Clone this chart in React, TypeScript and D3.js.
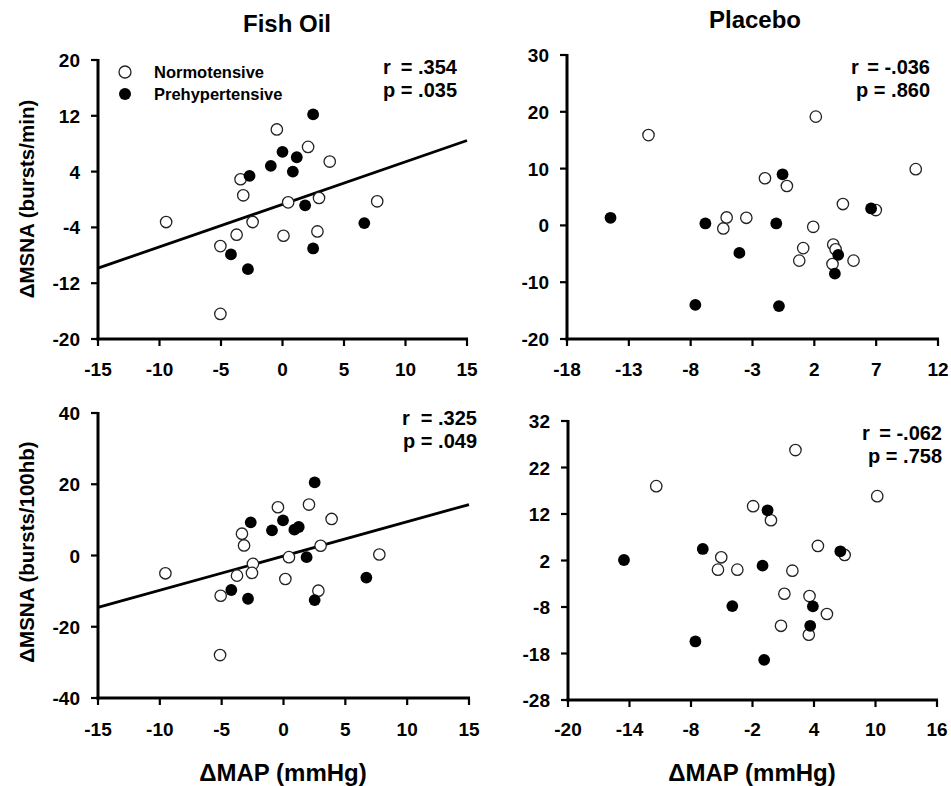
import React from 'react';
import * as d3 from 'd3';

type Pt = [number, number];

// ΔMAP (x) vs ΔMSNA (y) per participant
const fishMinNormo: Pt[] = [
  [-9.46, -3.23], [-5.05, -6.68], [-3.73, -5.05], [-3.41, 2.9], [-3.19, 0.6],
  [-2.43, -3.23], [-5.05, -16.4], [-0.46, 10.04], [0.46, -0.41], [0.08, -5.2],
  [2.08, 7.54], [2.97, 0.22], [2.84, -4.58], [3.84, 5.44], [7.7, -0.26],
];
const fishMinPrehyp: Pt[] = [
  [-2.68, 3.38], [-4.19, -7.87], [-2.81, -9.99], [-0.95, 4.82], [0.0, 6.83],
  [1.16, 6.06], [0.84, 4.0], [2.49, 12.2], [1.84, -0.84], [2.49, -7.02], [6.65, -3.38],
];
const placeboMinNormo: Pt[] = [
  [-11.41, 15.9], [-5.36, -0.54], [-5.09, 1.4], [-3.5, 1.34], [-1.99, 8.3],
  [-0.22, 6.94], [2.12, 19.15], [1.91, -0.25], [1.1, -4.0], [0.78, -6.2],
  [3.53, -3.37], [3.72, -4.2], [3.47, -6.8], [4.31, 3.76], [5.17, -6.2],
  [6.97, 2.7], [10.2, 9.9],
];
const placeboMinPrehyp: Pt[] = [
  [-14.48, 1.34], [-6.81, 0.34], [-4.06, -4.85], [-7.62, -14.0], [-0.57, 9.0],
  [-1.08, 0.34], [-0.86, -14.2], [3.93, -5.2], [3.66, -8.5], [6.59, 2.98],
];
const fishHbNormo: Pt[] = [
  [-9.55, -4.99], [-5.08, -11.3], [-3.76, -5.65], [-3.36, 6.12], [-3.19, 2.82],
  [-2.47, -2.35], [-2.55, -4.89], [-5.13, -27.95], [-0.45, 13.55], [0.44, -0.47],
  [0.15, -6.59], [2.06, 14.3], [3.0, 2.73], [2.82, -9.88], [3.89, 10.26], [7.75, 0.28],
];
const fishHbPrehyp: Pt[] = [
  [-2.65, 9.32], [-4.22, -9.69], [-2.87, -12.14], [-0.93, 7.06], [-0.04, 9.88],
  [0.88, 7.25], [1.23, 8.0], [2.52, 20.52], [1.87, -0.47], [2.52, -12.52], [6.7, -6.21],
];
const placeboHbNormo: Pt[] = [
  [-11.39, 17.99], [-5.05, 2.69], [-5.37, 0.03], [-3.48, 0.03], [-1.94, 13.68],
  [-0.2, 10.66], [2.19, 25.75], [1.89, -0.19], [1.11, -5.15], [0.78, -12.04],
  [3.56, -5.65], [3.49, -13.97], [4.38, 5.13], [5.26, -9.51], [6.99, 3.19], [10.17, 15.84],
];
const placeboHbPrehyp: Pt[] = [
  [-14.54, 2.11], [-6.85, 4.48], [-3.97, -7.8], [-7.57, -15.41], [-0.53, 12.8],
  [-1.02, 0.89], [-0.86, -19.36], [3.89, -7.86], [3.63, -12.04], [6.57, 3.98],
];

// Axis ticks
const fishXTicks = [-15, -10, -5, 0, 5, 10, 15];
const fishMinYTicks = [-20, -12, -4, 4, 12, 20];
const fishHbYTicks = [-40, -20, 0, 20, 40];
const placeboMinXTicks = [-18, -13, -8, -3, 2, 7, 12];
const placeboMinYTicks = [-20, -10, 0, 10, 20, 30];
const placeboHbXTicks = [-20, -14, -8, -2, 4, 10, 16];
const placeboHbYTicks = [-28, -18, -8, 2, 12, 22, 32];

// Regression lines (Fish Oil only)
const fishMinFit = { intercept: -0.69, slope: 0.61 };
const fishHbFit = { intercept: -0.14, slope: 0.963 };

// Correlation statistics
const statsR = ['.354', '-.036', '.325', '-.062'];
const statsP = ['.035', '.860', '.049', '.758'];

const groupLabels = ['Normotensive', 'Prehypertensive'];
const columnTitles = ['Fish Oil', 'Placebo'];
const yLabels = ['\u0394MSNA (bursts/min)', '\u0394MSNA (bursts/100hb)'];
const xLabel = '\u0394MAP (mmHg)';

const FONT = "'Liberation Sans', Arial, Helvetica, sans-serif";
const TICK_FS = 19;
const STAT_FS = 20;

interface PanelProps {
  x0: number; x1: number; yTop: number; yBot: number;
  xTicks: number[]; yTicks: number[];
  normo: Pt[]; prehyp: Pt[];
  fit?: { intercept: number; slope: number };
  r: string; p: string;
  statLeft: number; statRight: number; statBase: number;
  xLabelBase: number;
}

function Panel(props: PanelProps) {
  const { x0, x1, yTop, yBot, xTicks, yTicks, normo, prehyp, fit } = props;
  const xs = d3.scaleLinear().domain([xTicks[0], xTicks[xTicks.length - 1]]).range([x0, x1]);
  const ys = d3.scaleLinear().domain([yTicks[0], yTicks[yTicks.length - 1]]).range([yBot, yTop]);
  const tickLen = 7;
  const fitLine = fit
    ? d3.line<number>().x((d) => xs(d)).y((d) => ys(fit.intercept + fit.slope * d))(xs.domain())
    : null;
  return (
    <g>
      {/* y axis */}
      <line x1={x0} x2={x0} y1={yTop - 1} y2={yBot + 1.5} stroke="#000" strokeWidth={3} />
      {yTicks.map((t) => (
        <g key={'y' + t}>
          <line x1={x0 - tickLen} x2={x0} y1={ys(t)} y2={ys(t)} stroke="#000" strokeWidth={2.2} />
          <text x={x0 - 18} y={ys(t) + 7} textAnchor="end" fontSize={TICK_FS} fontWeight="bold" fontFamily={FONT}>
            {t}
          </text>
        </g>
      ))}
      {/* x axis */}
      <line x1={x0 - 1.5} x2={x1 + 1} y1={yBot} y2={yBot} stroke="#000" strokeWidth={3} />
      {xTicks.map((t) => (
        <g key={'x' + t}>
          <line x1={xs(t)} x2={xs(t)} y1={yBot} y2={yBot + tickLen} stroke="#000" strokeWidth={2.2} />
          <text x={xs(t)} y={props.xLabelBase} textAnchor="middle" fontSize={TICK_FS} fontWeight="bold" fontFamily={FONT}>
            {t}
          </text>
        </g>
      ))}
      {fitLine && <path d={fitLine} stroke="#000" strokeWidth={2.8} fill="none" />}
      {normo.map((d, i) => (
        <circle key={'n' + i} cx={xs(d[0])} cy={ys(d[1])} r={5.7} fill="#fff" stroke="#222" strokeWidth={1.3} />
      ))}
      {prehyp.map((d, i) => (
        <circle key={'p' + i} cx={xs(d[0])} cy={ys(d[1])} r={5.9} fill="#000" />
      ))}
      <text x={props.statLeft} y={props.statBase} fontSize={STAT_FS} fontWeight="bold" fontFamily={FONT}>r</text>
      <text x={props.statRight} y={props.statBase} textAnchor="end" fontSize={STAT_FS} fontWeight="bold" fontFamily={FONT}>
        {'= ' + props.r}
      </text>
      <text x={props.statRight} y={props.statBase + 23} textAnchor="end" fontSize={STAT_FS} fontWeight="bold" fontFamily={FONT}>
        {'p = ' + props.p}
      </text>
    </g>
  );
}

export default function App() {
  return (
    <svg width={951} height={786} style={{ position: 'absolute', left: 0, top: 0, background: '#fff' }}>
      <rect width={951} height={786} fill="#fff" />
      {/* column titles */}
      <text x={287} y={32} textAnchor="middle" fontSize={24} fontWeight="bold" fontFamily={FONT}>{columnTitles[0]}</text>
      <text x={755} y={28} textAnchor="middle" fontSize={24} fontWeight="bold" fontFamily={FONT}>{columnTitles[1]}</text>

      {/* y axis titles */}
      <text transform="translate(34,199) rotate(-90)" textAnchor="middle" fontSize={20.5} fontWeight="bold" fontFamily={FONT}>{yLabels[0]}</text>
      <text transform="translate(34,552) rotate(-90)" textAnchor="middle" fontSize={20.5} fontWeight="bold" fontFamily={FONT}>{yLabels[1]}</text>

      {/* x axis titles */}
      <text x={283} y={781} textAnchor="middle" fontSize={24} fontWeight="bold" fontFamily={FONT}>{xLabel}</text>
      <text x={752} y={781} textAnchor="middle" fontSize={24} fontWeight="bold" fontFamily={FONT}>{xLabel}</text>

      {/* legend */}
      <circle cx={125} cy={72} r={6} fill="#fff" stroke="#222" strokeWidth={1.3} />
      <circle cx={125} cy={94} r={6} fill="#000" />
      <text x={154} y={78} fontSize={16.5} fontWeight="bold" fontFamily={FONT}>{groupLabels[0]}</text>
      <text x={154} y={100} fontSize={16.5} fontWeight="bold" fontFamily={FONT}>{groupLabels[1]}</text>

      <Panel x0={98} x1={467} yTop={60} yBot={339} xTicks={fishXTicks} yTicks={fishMinYTicks}
        normo={fishMinNormo} prehyp={fishMinPrehyp} fit={fishMinFit}
        r={statsR[0]} p={statsP[0]} statLeft={383} statRight={457} statBase={74} xLabelBase={376} />
      <Panel x0={567} x1={938} yTop={55} yBot={339} xTicks={placeboMinXTicks} yTicks={placeboMinYTicks}
        normo={placeboMinNormo} prehyp={placeboMinPrehyp}
        r={statsR[1]} p={statsP[1]} statLeft={851} statRight={930} statBase={74} xLabelBase={376} />
      <Panel x0={98} x1={469} yTop={413} yBot={698} xTicks={fishXTicks} yTicks={fishHbYTicks}
        normo={fishHbNormo} prehyp={fishHbPrehyp} fit={fishHbFit}
        r={statsR[2]} p={statsP[2]} statLeft={402} statRight={477} statBase={425} xLabelBase={736} />
      <Panel x0={568} x1={937} yTop={421} yBot={700} xTicks={placeboHbXTicks} yTicks={placeboHbYTicks}
        normo={placeboHbNormo} prehyp={placeboHbPrehyp}
        r={statsR[3]} p={statsP[3]} statLeft={862} statRight={942} statBase={440} xLabelBase={736} />
    </svg>
  );
}
